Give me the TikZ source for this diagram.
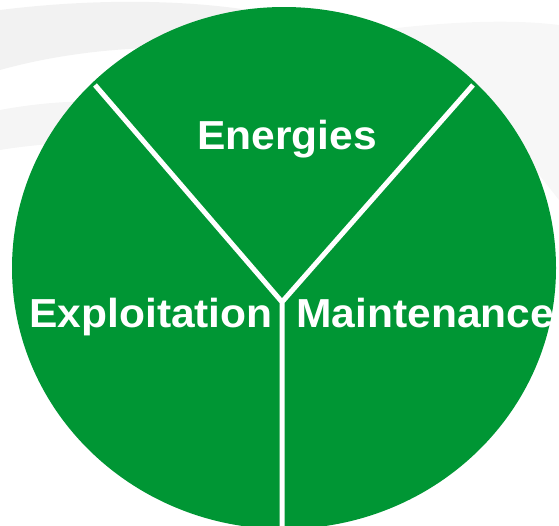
\documentclass[tikz,border=0pt]{standalone}
\usepackage{fontspec}
\setmainfont{Liberation Sans}
\definecolor{leafgreen}{RGB}{0,150,52}
\newcommand\widetext[1]{\scalebox{1.05}[1]{#1}}
\begin{document}
\begin{tikzpicture}[x=1pt,y=-1pt,thick,
    label node/.style={inner sep=0pt,text=white,font=\bfseries\fontsize{40.5}{48}\selectfont},
    split line/.style={draw=white,line width=5pt}]
                \useasboundingbox (0,0) rectangle (559,525);
                \clip (0,0) rectangle (559,525);
                % faded background
                \fill[gray!10] (0,10) .. controls (120,-5) and (250,0) .. (330,30) -- (300,60) .. controls (200,40) and (90,45) .. (0,70) -- cycle;
                \fill[gray!8] (0,110) .. controls (80,95) and (160,100) .. (230,120) -- (200,150) .. controls (130,140) and (60,140) .. (0,150) -- cycle;
                \fill[gray!6] (380,30) .. controls (460,20) and (520,20) .. (559,25) -- (559,200) .. controls (520,150) and (470,90) .. (380,30) -- cycle;
                \fill[leafgreen] (284,268) ellipse [x radius=272, y radius=261];

                \coordinate (hub) at (282,302);
                \coordinate (nw) at (95,85);
                \coordinate (ne) at (473,85);
                \coordinate (s) at (282,540);

                \path[split line]
                    (nw) -- (hub) -- (ne)
                    (hub) -- (s);

                \node[label node,anchor=base] at (287,149) (energies) {\widetext{Energies}};
                \node[label node,anchor=base west] at (29,327) (exploitation) {\widetext{Exploitation}};
                \node[label node,anchor=base west] at (296,327) (maintenance) {\widetext{Maintenance}};
            \end{tikzpicture}
\end{document}
